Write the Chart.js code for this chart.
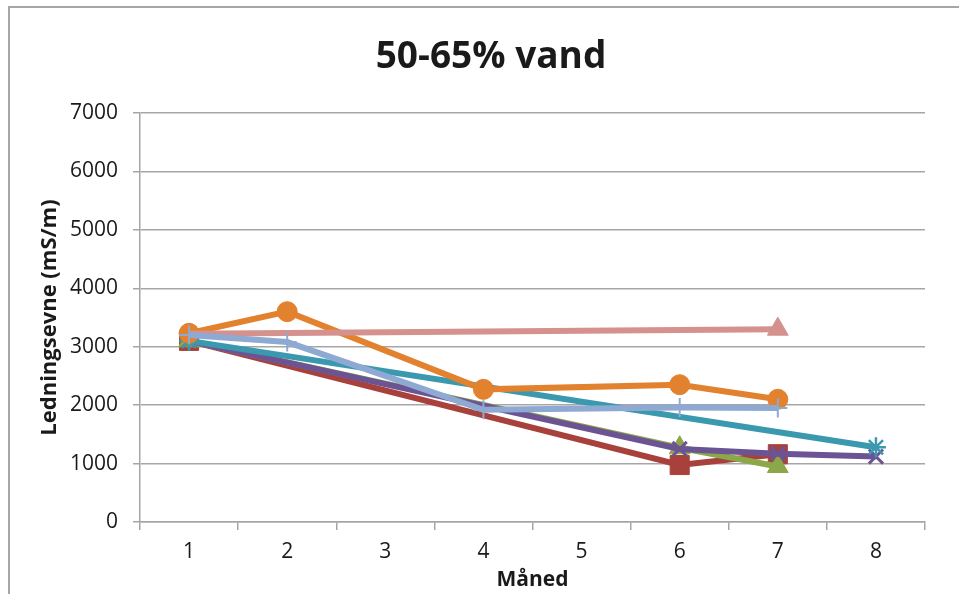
<!DOCTYPE html>
<html>
<head>
<meta charset="utf-8">
<script src="https://cdn.jsdelivr.net/npm/chart.js@4.4.1/dist/chart.umd.min.js"></script>
<style>
html,body{margin:0;padding:0;background:#fff;}
#wrap{position:relative;width:959px;height:594px;}
canvas{display:block;}
</style>
</head>
<body>
<div id="wrap"><canvas id="c" width="959" height="594"></canvas></div>
<script>
const chartTitle = '50-65% vand';
const xAxisTitle = 'Måned';
const yAxisTitle = 'Ledningsevne (mS/m)';
const months = ['1', '2', '3', '4', '5', '6', '7', '8'];
const yMin = 0;
const yMax = 7000;
const yStep = 1000;

const seriesRed       = [3100, null, null, null, null,  975, 1160, null];
const seriesGreen     = [3100, null, null, null, null, 1270,  950, null];
const seriesPurple    = [3100, null, null, null, null, 1250, 1170, 1120];
const seriesTeal      = [3100, null, null, null, null, null, null, 1280];
const seriesOrange    = [3230, 3600, null, 2270, null, 2350, 2100, null];
const seriesPink      = [3220, null, null, null, null, null, 3300, null];
const seriesLightBlue = [3200, 3080, null, 1920, null, 1960, 1950, null];

const FONT = "'Open Sans', 'DejaVu Sans', sans-serif";
const GRID = '#A6A6A6';
const TEXT = '#1a1a1a';

const framePlugin = {
  id: 'frame',
  beforeDraw(chart) {
    const ctx = chart.ctx;
    ctx.save();
    ctx.fillStyle = '#fff';
    ctx.fillRect(0, 0, chart.width, chart.height);
    ctx.strokeStyle = '#A6A6A6';
    ctx.lineWidth = 2;
    ctx.beginPath();
    ctx.moveTo(9, chart.height);
    ctx.lineTo(9, 7);
    ctx.lineTo(chart.width, 7);
    ctx.stroke();
    ctx.restore();
  },
  afterDraw(chart) {
    const ctx = chart.ctx;
    ctx.save();
    ctx.fillStyle = TEXT;
    ctx.font = "bold 37px " + FONT;
    ctx.textAlign = 'center';
    ctx.textBaseline = 'alphabetic';
    ctx.fillText(chartTitle, 491, 68);
    ctx.restore();
  }
};

function ds(label, data, color, style, radius, bw, order) {
  return {
    label: label,
    data: data,
    borderColor: color,
    backgroundColor: color,
    pointBackgroundColor: color,
    pointBorderColor: color,
    pointStyle: style,
    pointRadius: radius,
    pointHoverRadius: radius,
    pointBorderWidth: bw,
    borderWidth: 6,
    tension: 0,
    spanGaps: true,
    order: order
  };
}

const datasets = [
  ds('Serie 7', seriesLightBlue, '#8EA9D2', 'cross', 9.5, 2, 0),
  Object.assign(ds('Serie 8', seriesPink, '#D4918E', 'triangle', 12, 1, 1), {
    pointRadius: (c) => c.dataIndex === 0 ? 0 : 12
  }),
  ds('Serie 6', seriesOrange, '#E2822F', 'circle', 10, 1, 2),
  ds('Serie 5', seriesTeal, '#3A99AF', 'star', 10, 2.5, 3),
  ds('Serie 4', seriesPurple, '#6C5494', 'crossRot', 10, 3, 4),
  ds('Serie 3', seriesGreen, '#8BA748', 'triangle', 12, 1, 5),
  ds('Serie 2', seriesRed, '#A8413C', 'rect', 13.5, 1, 6)
];

new Chart(document.getElementById('c'), {
  type: 'line',
  data: { labels: months, datasets: datasets },
  plugins: [framePlugin],
  options: {
    responsive: false,
    devicePixelRatio: 1,
    animation: false,
    events: [],
    layout: { padding: { left: 0, top: 113, right: 34, bottom: 0 } },
    plugins: {
      legend: { display: false },
      tooltip: { enabled: false },
      title: { display: false }
    },
    scales: {
      x: {
        type: 'category',
        offset: true,
        grid: {
          offset: true,
          drawOnChartArea: false,
          drawTicks: true,
          tickLength: 8,
          color: GRID,
          lineWidth: 1.5
        },
        border: { display: true, color: GRID, width: 1.5 },
        ticks: {
          color: TEXT,
          font: { family: FONT, size: 21 },
          padding: 9,
          maxRotation: 0,
          autoSkip: false
        },
        title: {
          display: true,
          text: xAxisTitle,
          color: TEXT,
          font: { family: FONT, size: 21, weight: 'bold' },
          padding: { top: 0, bottom: 1 }
        },
        afterFit(scale) { scale.height = 72; }
      },
      y: {
        type: 'linear',
        min: yMin,
        max: yMax,
        grid: {
          color: GRID,
          lineWidth: 1.5,
          drawTicks: true,
          tickLength: 7
        },
        border: { display: true, color: GRID, width: 1.5 },
        ticks: {
          stepSize: yStep,
          color: TEXT,
          font: { family: FONT, size: 21 },
          padding: 15,
          callback: (v) => String(v)
        },
        title: {
          display: true,
          text: yAxisTitle,
          color: TEXT,
          font: { family: FONT, size: 22, weight: 'bold' },
          padding: { top: 37, bottom: 0 }
        },
        afterFit(scale) { scale.width = 140; }
      }
    }
  }
});
</script>
</body>
</html>
